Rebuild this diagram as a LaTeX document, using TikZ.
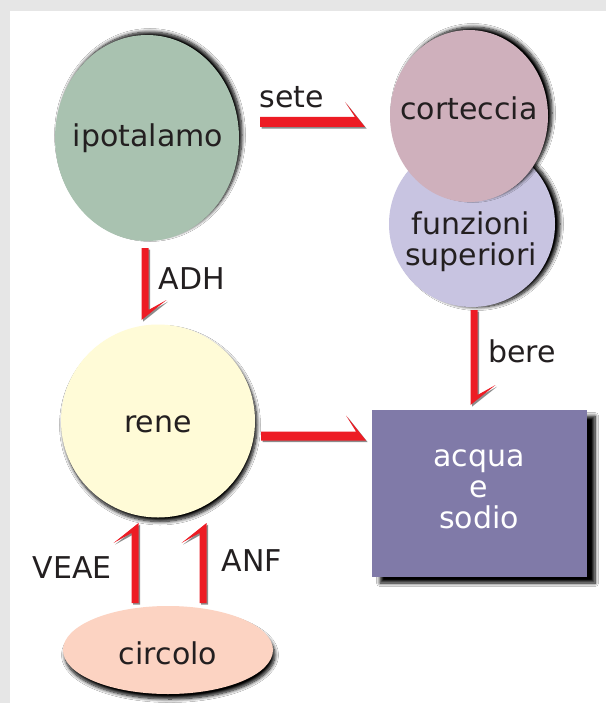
\documentclass[tikz,border=0pt]{standalone}
\usepackage{fontspec}
\setmainfont{DejaVu Sans}
\usetikzlibrary{shapes.geometric,shadows.blur,calc}
\definecolor{bggrey}{HTML}{E6E6E6}
\definecolor{txt}{HTML}{231F20}
\definecolor{arrred}{HTML}{ED1C24}
\definecolor{cipo}{HTML}{A9C2B0}
\definecolor{ccort}{HTML}{CFB0BC}
\definecolor{cfunz}{HTML}{C8C4E1}
\definecolor{crene}{HTML}{FFFBD7}
\definecolor{ccirc}{HTML}{FCD3C2}
\definecolor{cbox}{HTML}{807AA8}
\newcommand\harpoonarrow[4]{% position, angle, length, thickness
  \begin{scope}[shift={#1}, xshift=1.6bp, yshift=-1.6bp, rotate=#2]
    \fill[black, opacity=.45] (0,5-#4) -- (#3-10,5-#4) -- (#3-20,-20) -- (#3,5) -- (0,5) -- cycle;
  \end{scope}
  \begin{scope}[shift={#1}, rotate=#2]
    \fill[arrred] (0,5-#4) -- (#3-10,5-#4) -- (#3-20,-20) -- (#3,5) -- (0,5) -- cycle;
  \end{scope}}
\begin{document}
\begin{tikzpicture}[x=1bp,y=-1bp,
  bubble/.style={ellipse, inner sep=0pt, outer sep=0pt},
  lbl/.style={inner sep=0pt, text=txt, align=center, font=\fontsize{30bp}{31bp}\selectfont},
  shad/.style={blur shadow={shadow blur radius=3.5bp, shadow opacity=100, shadow blur steps=8, #1}}]
\fill[bggrey] (0,0) rectangle (606,703);
\fill[white] (10,11) rectangle (606,703);
\useasboundingbox (0,0) rectangle (606,703);

\node[bubble, fill=cipo, minimum width=184bp, minimum height=206bp,
  shad={shadow xshift=3bp, shadow yshift=3bp}] (ipo) at (147,138) {};
\node[bubble, fill=cfunz, minimum width=166bp, minimum height=166bp,
  shad={shadow xshift=5bp, shadow yshift=0bp}] (funz) at (472,224) {};
\node[bubble, fill=ccort, minimum width=158bp, minimum height=172bp,
  shad={shadow xshift=4bp, shadow yshift=3bp}] (cort) at (469,116) {};
\node[bubble, fill=crene, minimum width=194bp, minimum height=193bp,
  shad={shadow xshift=2bp, shadow yshift=-4bp}] (rene) at (158,421) {};
\node[bubble, fill=ccirc, minimum width=210bp, minimum height=88bp,
  shad={shadow xshift=2bp, shadow yshift=-5bp}] (circ) at (168,650) {};
\node[rectangle, fill=cbox, inner sep=0pt, minimum width=215bp, minimum height=167bp,
  shad={shadow xshift=8bp, shadow yshift=-6bp}] (acq) at (479.5,493.5) {};

\node[lbl] (ipot) at (148,138) {ipotalamo};
\node[lbl] (cortt) at (469,108) {corteccia};
\node[lbl] (funzt) at (471,242) {funzioni\\superiori};
\node[lbl] (renet) at (158,424) {rene};
\node[lbl] (circt) at (168,653) {circolo};
\node[lbl, text=white] (acqt) at (479,489) {acqua\\e\\sodio};

\harpoonarrow{($(ipo.east)+(21,-16)$)}{0}{105}{10}
\harpoonarrow{($(ipo.south)+(-0.5,7)$)}{-90}{72}{7}
\harpoonarrow{($(funz.south)+(3.5,3)$)}{-90}{95}{7}
\harpoonarrow{($(rene.east)+(6,14.5)$)}{0}{105}{9}
\harpoonarrow{($(circ.north)+(-34.5,-3)$)}{90}{80}{7}
\harpoonarrow{($(circ.north)+(33.5,-3)$)}{90}{80}{7}

\node[lbl] (lsete) at (292,97) {sete};
\node[lbl] (ladh) at (192,279) {ADH};
\node[lbl] (lbere) at (522,351) {bere};
\node[lbl] (lveae) at (72,568) {VEAE};
\node[lbl] (lanf) at (252,561) {ANF};
\end{tikzpicture}
\end{document}
